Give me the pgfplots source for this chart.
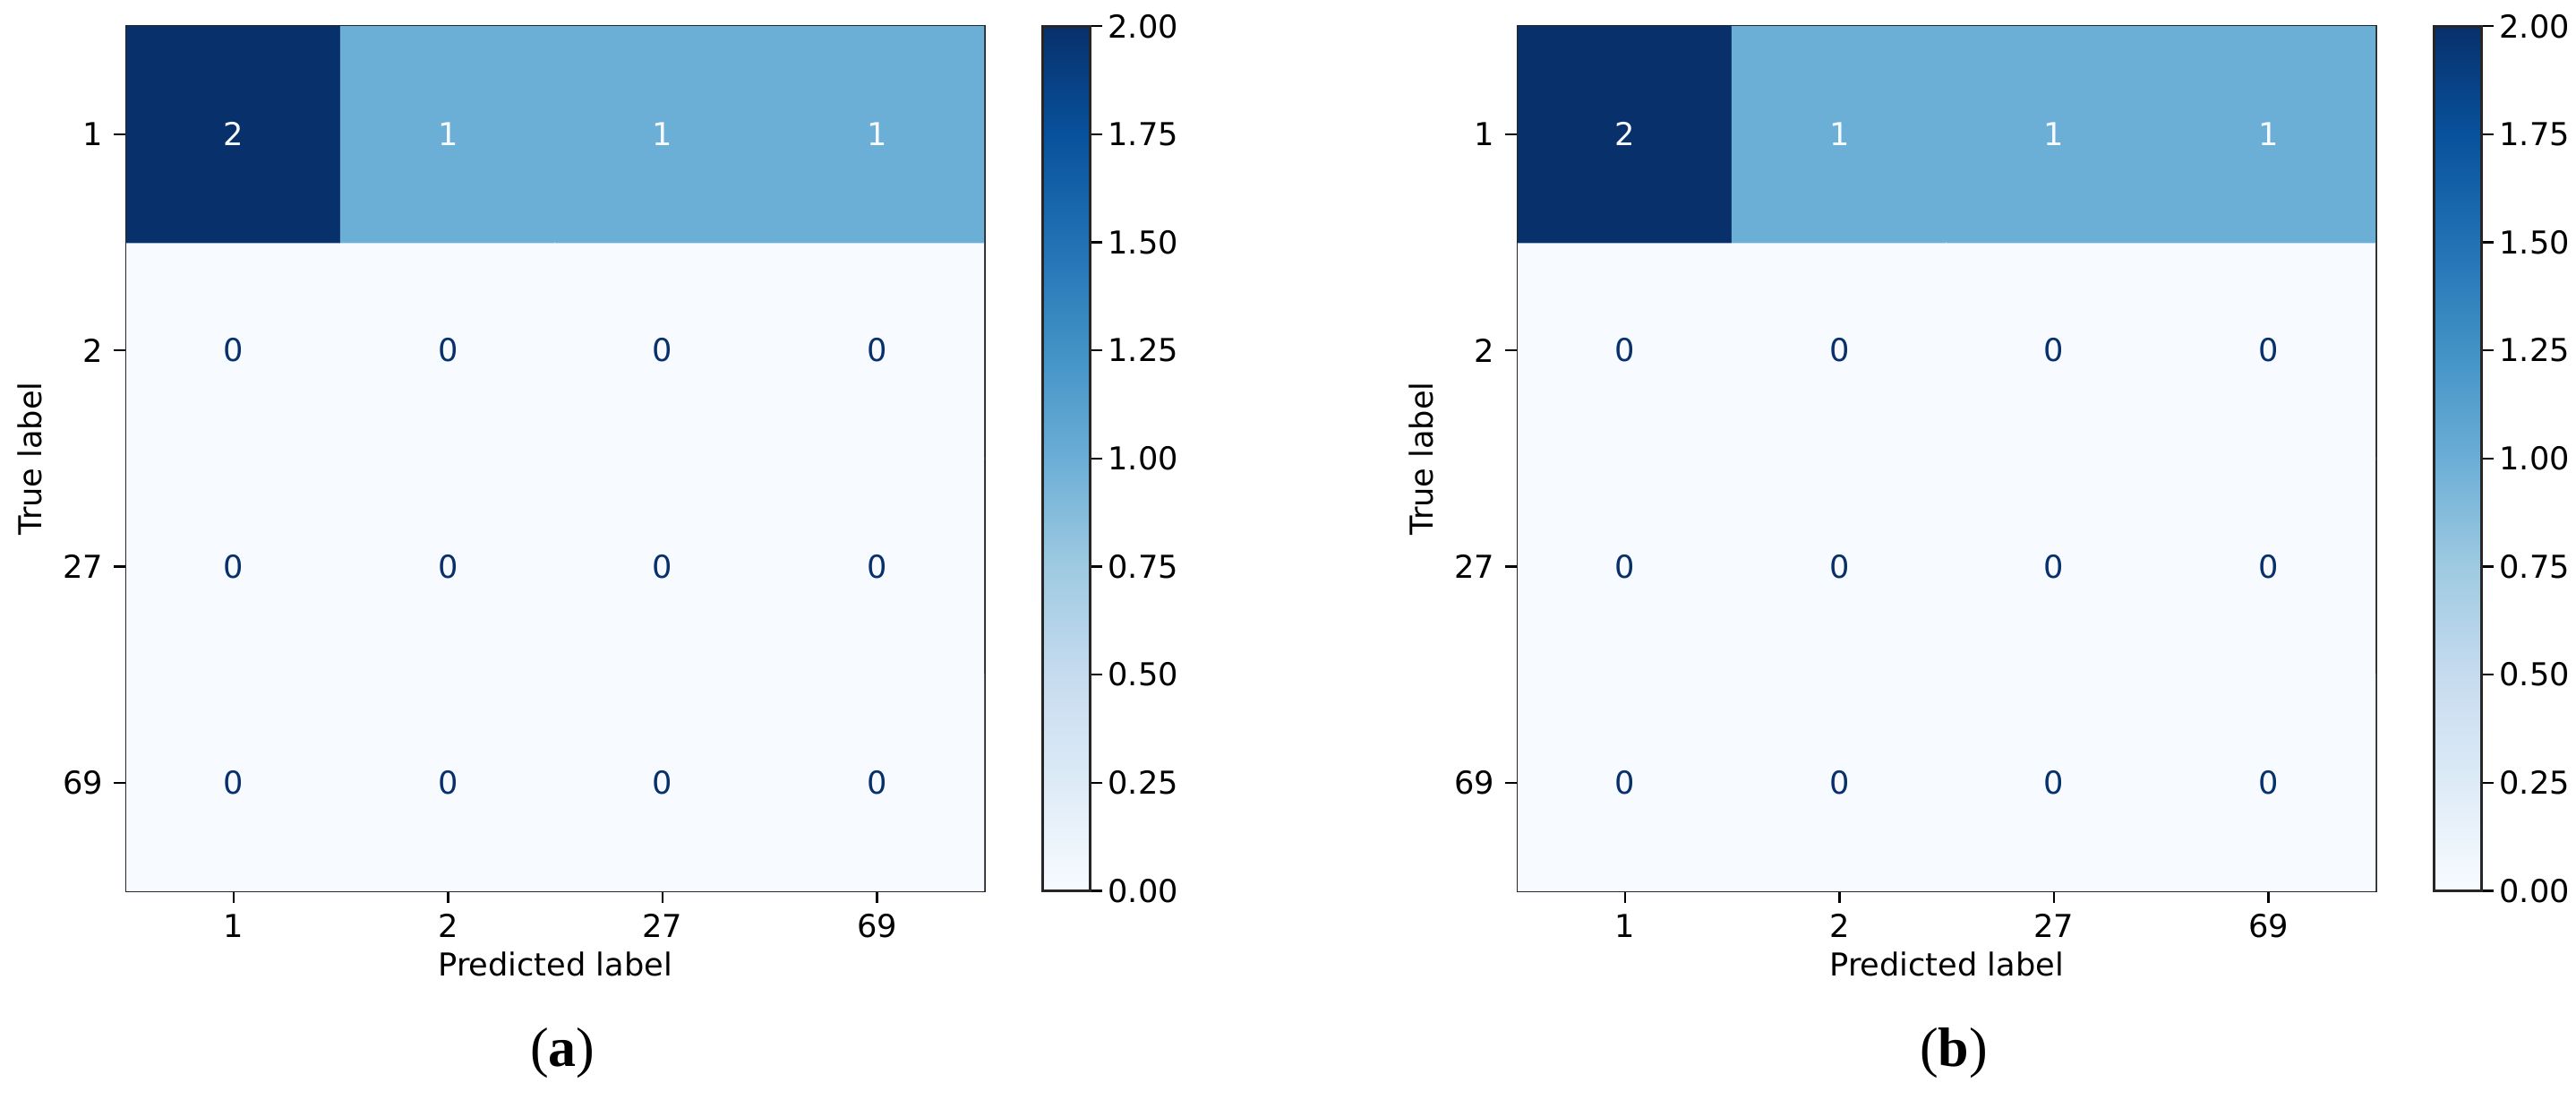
\documentclass[border=0pt]{standalone}
\usepackage{fontspec}
\setmainfont{DejaVu Sans}
\newfontfamily\capfont{Liberation Serif}
\usepackage{pgfplots}
\usepackage{pgfplotstable}
\pgfplotsset{compat=1.18}

% confusion matrix, x = predicted, y = true (row "1" at the top)
\pgfplotstableread{
x y c
0 0 0
1 0 0
2 0 0
3 0 0
0 1 0
1 1 0
2 1 0
3 1 0
0 2 0
1 2 0
2 2 0
3 2 0
0 3 2
1 3 1
2 3 1
3 3 1
}\cm
% cell texts on dark cells
\pgfplotstableread{
x y c
0 3 2
1 3 1
2 3 1
3 3 1
}\cmhi
% cell texts on light cells
\pgfplotstableread{
x y c
0 0 0
1 0 0
2 0 0
3 0 0
0 1 0
1 1 0
2 1 0
3 1 0
0 2 0
1 2 0
2 2 0
3 2 0
}\cmlo

\definecolor{bmin}{HTML}{F7FBFF}
\definecolor{bmax}{HTML}{08306B}

\pgfplotsset{
 /pgf/number format/assume math mode=true,
 colormap={blues}{
  rgb255=(247,251,255) rgb255=(222,235,247) rgb255=(198,219,239)
  rgb255=(158,202,225) rgb255=(107,174,214) rgb255=(66,146,198)
  rgb255=(33,113,181) rgb255=(8,81,156) rgb255=(8,48,107)},
 cmstyle/.style={
  scale only axis,
  width=239.5pt, height=241.3pt,
  anchor=north west,
  clip mode=individual,
  xmin=-0.5, xmax=3.5, ymin=-0.5, ymax=3.5,
  xtick={0,1,2,3}, xticklabels={1,2,27,69},
  ytick={0,1,2,3}, yticklabels={69,27,2,1},
  xtick pos=bottom, ytick pos=left,
  tick align=outside,
  major tick length=3.5pt,
  every tick/.style={black, line width=0.6pt},
  axis line style={black!85, line width=0.7pt},
  font=\fontsize{8.8}{10.5}\selectfont,
  xticklabel style={yshift=0.5pt},
  yticklabel style={xshift=0.5pt},
  xlabel={Predicted label}, ylabel={True label},
  xlabel style={yshift=3pt},
  ylabel style={yshift=-1pt},
  colormap name=blues,
  point meta min=0, point meta max=2,
  colorbar,
  colorbar style={
   scale only axis,
   width=13.3pt,
   at={(parent axis.north east)}, anchor=north west, xshift=7.7pt,
   ytick={0,0.25,...,2},
   yticklabel={\pgfmathprintnumber[fixed,fixed zerofill,precision=2]{\tick}},
   yticklabel style={xshift=-2pt},
   ytick pos=right, tick align=outside,
   major tick length=3.5pt,
   every tick/.style={black, line width=0.6pt},
   axis line style={black!85, line width=0.7pt},
   font=\fontsize{8.8}{10.5}\selectfont,
  },
 },
 cmtext/.style={only marks, mark=none, point meta=explicit symbolic,
  nodes near coords, nodes near coords align=center,
  every node near coord/.append style={text=#1, font=\fontsize{8.8}{10.5}\selectfont}},
}

\begin{document}
\begin{tikzpicture}
\path[use as bounding box] (0,0) rectangle (719.25pt,-306.9pt);

\begin{axis}[cmstyle, at={(35.3pt,-7.3pt)}]
 \addplot[matrix plot*, mesh/cols=4, point meta=explicit] table[meta=c] {\cm};
 \addplot[cmtext=bmin] table[meta=c] {\cmhi};
 \addplot[cmtext=bmax] table[meta=c] {\cmlo};
 \node[font=\capfont\fontsize{15.5}{18}\selectfont] at (axis description cs:0.5,0) [yshift=-45.4pt, xshift=2pt] {(\textbf{a})};
\end{axis}

\begin{axis}[cmstyle, at={(423.8pt,-7.3pt)}]
 \addplot[matrix plot*, mesh/cols=4, point meta=explicit] table[meta=c] {\cm};
 \addplot[cmtext=bmin] table[meta=c] {\cmhi};
 \addplot[cmtext=bmax] table[meta=c] {\cmlo};
 \node[font=\capfont\fontsize{15.5}{18}\selectfont] at (axis description cs:0.5,0) [yshift=-45.4pt, xshift=2pt] {(\textbf{b})};
\end{axis}
\end{tikzpicture}
\end{document}
